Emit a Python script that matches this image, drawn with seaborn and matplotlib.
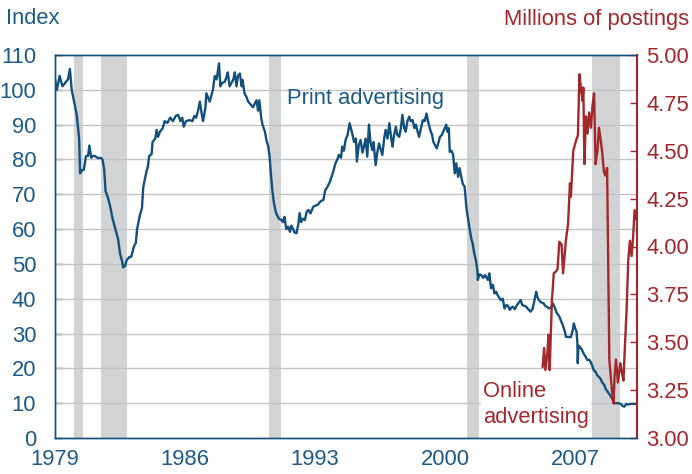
import numpy as np
import pandas as pd
import matplotlib
matplotlib.use("Agg")
import matplotlib.pyplot as plt
import seaborn as sns

# ==========================================
# DADOS
# ==========================================
anos_print = [
    1979.0, 1979.1, 1979.25, 1979.4, 1979.55, 1979.7, 1979.8, 1979.9, 1980.05, 1980.17,
    1980.3, 1980.35, 1980.45, 1980.55, 1980.67, 1980.78, 1980.85, 1980.95, 1981.05, 1981.15,
    1981.3, 1981.45, 1981.56, 1981.65, 1981.72, 1981.85, 1981.95, 1982.1, 1982.3, 1982.4,
    1982.5, 1982.6, 1982.67, 1982.78, 1982.85, 1983.0, 1983.1, 1983.25, 1983.35, 1983.42,
    1983.57, 1983.68, 1983.75, 1983.9, 1984.0, 1984.07, 1984.2, 1984.25, 1984.4, 1984.47,
    1984.55, 1984.65, 1984.8, 1984.9, 1985.05, 1985.2, 1985.35, 1985.5, 1985.63, 1985.75,
    1985.85, 1985.93, 1986.05, 1986.25, 1986.4, 1986.5, 1986.6, 1986.7, 1986.8, 1986.9,
    1986.97, 1987.1, 1987.15, 1987.33, 1987.45, 1987.5, 1987.6, 1987.7, 1987.83, 1987.9,
    1988.0, 1988.14, 1988.25, 1988.3, 1988.4, 1988.5, 1988.6, 1988.68, 1988.77, 1988.85,
    1988.95, 1989.05, 1989.1, 1989.2, 1989.3, 1989.4, 1989.5, 1989.66, 1989.75, 1989.85,
    1989.93, 1990.0, 1990.1, 1990.17, 1990.3, 1990.38, 1990.47, 1990.55, 1990.62, 1990.7,
    1990.8, 1990.9, 1991.05, 1991.2, 1991.27, 1991.35, 1991.45, 1991.55, 1991.65, 1991.72,
    1991.8, 1991.9, 1992.0, 1992.1, 1992.17, 1992.25, 1992.35, 1992.45, 1992.55, 1992.65,
    1992.75, 1992.9, 1993.05, 1993.15, 1993.3, 1993.45, 1993.55, 1993.65, 1993.8, 1993.95,
    1994.1, 1994.2, 1994.28, 1994.4, 1994.46, 1994.55, 1994.64, 1994.75, 1994.86, 1995.0,
    1995.1, 1995.2, 1995.25, 1995.35, 1995.45, 1995.55, 1995.63, 1995.72, 1995.81, 1995.9,
    1995.98, 1996.08, 1996.15, 1996.26, 1996.35, 1996.44, 1996.53, 1996.62, 1996.72, 1996.8,
    1996.9, 1997.0, 1997.1, 1997.17, 1997.25, 1997.35, 1997.43, 1997.53, 1997.62, 1997.7,
    1997.8, 1997.88, 1997.97, 1998.07, 1998.15, 1998.25, 1998.35, 1998.43, 1998.52, 1998.6,
    1998.7, 1998.8, 1998.9, 1999.0, 1999.08, 1999.2, 1999.3, 1999.37, 1999.47, 1999.55,
    1999.65, 1999.72, 1999.82, 1999.9, 2000.06, 2000.12, 2000.2, 2000.25, 2000.35, 2000.43,
    2000.52, 2000.6, 2000.7, 2000.78, 2000.87, 2000.95, 2001.05, 2001.15, 2001.3, 2001.4,
    2001.48, 2001.57, 2001.66, 2001.74, 2001.76, 2001.85, 2001.95, 2002.05, 2002.15, 2002.3,
    2002.38, 2002.47, 2002.57, 2002.66, 2002.75, 2002.83, 2002.95, 2003.0, 2003.1, 2003.2,
    2003.3, 2003.38, 2003.48, 2003.57, 2003.65, 2003.75, 2003.87, 2003.98, 2004.07, 2004.15,
    2004.25, 2004.37, 2004.47, 2004.6, 2004.7, 2004.78, 2004.9, 2004.97, 2005.05, 2005.15,
    2005.3, 2005.38, 2005.47, 2005.6, 2005.7, 2005.8, 2005.9, 2006.0, 2006.15, 2006.25,
    2006.33, 2006.45, 2006.5, 2006.6, 2006.7, 2006.77, 2006.87, 2006.93, 2007.0, 2007.08,
    2007.12, 2007.14, 2007.18, 2007.25, 2007.35, 2007.45, 2007.55, 2007.65, 2007.75, 2007.83,
    2007.9, 2008.0, 2008.1, 2008.18, 2008.28, 2008.36, 2008.45, 2008.57, 2008.65, 2008.75,
    2008.85, 2008.93, 2009.02, 2009.1, 2009.3, 2009.45, 2009.55, 2009.65, 2009.75, 2009.85,
    2010.0, 2010.15, 2010.3,
]
indice_print = [
    103, 100, 104, 101, 102, 103, 106, 100, 96, 92.8,
    86, 76, 77, 77, 81, 81, 84, 80.5, 81, 81,
    80.4, 80.5, 80, 77, 71, 69, 67, 63, 59, 57,
    53, 51, 49, 49.5, 51, 52, 52, 55, 56, 60,
    64, 66, 72, 76, 78, 81, 81.5, 85, 86, 88.5,
    86.5, 88, 89, 91, 90.5, 92, 91, 92.5, 92.8, 91,
    92, 89.4, 91, 91.3, 91, 92.5, 92, 94, 96.6, 93,
    91, 95, 99, 96.6, 99, 100, 104, 103, 107.6, 101,
    102, 102.3, 104, 105, 101, 102, 103, 105, 101, 104,
    104.7, 101, 102.8, 99, 98, 96.6, 96, 95, 96, 97,
    94, 97, 92, 90, 88, 85.6, 84, 81, 76, 71,
    67, 64.6, 63, 62.6, 62, 63.5, 60, 60.7, 59.2, 61,
    60.2, 59, 58.8, 61.5, 64.6, 62, 63, 62.6, 65, 65.5,
    64.5, 66.4, 66.8, 67, 68, 68.4, 71.2, 72, 73.6, 76,
    78.9, 80, 81.3, 80.5, 83.7, 82.5, 85.6, 87, 90.4, 87.5,
    85, 86, 79.4, 84, 85.6, 82, 83.7, 86, 80.8, 90,
    85, 82.7, 85, 78.4, 82, 84.6, 83, 81.3, 86, 88.5,
    86, 90.4, 86, 83.7, 87, 89.4, 87, 86.5, 89, 92.8,
    89, 88, 91, 92.3, 91, 91.3, 89, 90, 88, 86.5,
    89, 91.3, 91, 93.2, 91, 88.5, 87, 85, 84, 83.2,
    85, 86.5, 87, 88, 90, 88, 89, 82.2, 82.5, 81.3,
    76, 78.9, 75, 77.5, 75, 73, 72.2, 66, 60.7, 57.5,
    55.9, 53, 51, 48, 45.4, 47, 46.8, 46, 46.8, 45.4,
    47.3, 43, 44, 41.5, 42, 41, 40, 39.6, 40, 37.2,
    38.2, 38, 36.8, 37.5, 37.7, 37, 38.2, 39, 39.6, 38.2,
    38, 37.7, 37, 36.3, 37, 38.7, 42, 40.5, 39.6, 39,
    38.7, 38, 37.7, 37.2, 37.5, 38.7, 37.5, 36, 34.9, 33.5,
    32.5, 30.5, 29.1, 29, 29, 29, 31, 32.9, 31.5, 30.5,
    27.2, 21.5, 26.5, 26.2, 25.5, 24.3, 23.5, 22.4, 22.5, 21.9,
    21, 19.5, 19, 18.1, 17.5, 17.1, 16, 15.2, 14, 13.3,
    12.5, 11.9, 11, 10, 10, 9.8, 9.2, 9.0, 9.8, 9.6,
    9.8, 9.8, 9.8,
]

anos_online = [
    2005.25, 2005.33, 2005.4, 2005.5, 2005.57, 2005.63, 2005.75, 2005.85, 2005.97, 2006.05,
    2006.15, 2006.27, 2006.35, 2006.5, 2006.62, 2006.72, 2006.77, 2006.9, 2007.07, 2007.15,
    2007.23, 2007.32, 2007.4, 2007.44, 2007.5, 2007.58, 2007.67, 2007.75, 2007.85, 2007.93,
    2008.02, 2008.1, 2008.2, 2008.28, 2008.37, 2008.46, 2008.55, 2008.63, 2008.72, 2008.84,
    2008.98, 2009.07, 2009.12, 2009.2, 2009.3, 2009.43, 2009.5, 2009.6, 2009.68, 2009.77,
    2009.86, 2009.95, 2010.04, 2010.12, 2010.2, 2010.3,
]
postagens_online = [
    3.37, 3.47, 3.355, 3.44, 3.54, 3.355, 3.72, 3.86, 3.87, 3.88,
    4.025, 4.01, 3.86, 4.03, 4.12, 4.33, 4.26, 4.50, 4.56, 4.58,
    4.90, 4.82, 4.76, 4.83, 4.43, 4.68, 4.59, 4.70, 4.62, 4.73,
    4.80, 4.43, 4.50, 4.62, 4.56, 4.49, 4.39, 4.37, 4.41, 3.41,
    3.25, 3.18, 3.32, 3.41, 3.29, 3.39, 3.35, 3.30, 3.48, 3.67,
    3.93, 4.03, 3.95, 4.05, 4.19, 4.14,
]

# recessões (NBER)
recessao_inicio = [1980.0, 1981.5, 1990.5, 2001.17, 2007.92]
recessao_fim = [1980.5, 1982.87, 1991.17, 2001.84, 2009.42]

anos_ticks = [1979, 1986, 1993, 2000, 2007]
ticks_esq = list(range(0, 111, 10))
ticks_dir = [3.00, 3.25, 3.50, 3.75, 4.00, 4.25, 4.50, 4.75, 5.00]

df_print = pd.DataFrame({'Ano': anos_print, 'Indice': indice_print})
df_online = pd.DataFrame({'Ano': anos_online, 'Postagens': postagens_online})

# ==========================================
# ESTILO
# ==========================================
sns.set_theme(style="white")
plt.rcParams['font.family'] = ['Liberation Sans', 'DejaVu Sans']

azul = '#14507c'
azul_txt = '#1d5a86'
vermelho = '#a3282b'
cinza = '#d1d3d5'
fs = 15.8

fig = plt.figure(figsize=(6.92, 4.74), dpi=100)
ax = fig.add_axes([55/692, 1 - 438/474, (637-55)/692, (438-55)/474])

for ini, fim in zip(recessao_inicio, recessao_fim):
    ax.axvspan(ini, fim, color=cinza, lw=0, zorder=0)

for t in ticks_esq[1:-1]:
    ax.axhline(t, color='#c4c4c4', lw=1, zorder=1)

sns.lineplot(data=df_print, x='Ano', y='Indice', ax=ax, color=azul, lw=1.7, zorder=3)

ax.set_xlim(1979, 2010.33)
ax.set_ylim(0, 110)
ax.set_xticks(anos_ticks)
ax.set_yticks(ticks_esq)
ax.set_xlabel('')
ax.set_ylabel('')
ax.tick_params(axis='both', direction='in', length=5, width=1, color=azul,
               labelcolor=azul_txt, labelsize=fs)
ax.tick_params(axis='y', pad=13.5)
ax.tick_params(axis='x', pad=8)

ax.text(1995.7, 97.6, 'Print advertising', color=azul_txt, fontsize=fs,
        ha='center', va='center', zorder=4)
ax.text(2002.05, 9.6, 'Online\nadvertising', color=vermelho, fontsize=fs,
        ha='left', va='center', linespacing=1.3, zorder=4,
        bbox=dict(facecolor='white', edgecolor='none', pad=1.5))

ax2 = ax.twinx()
sns.lineplot(data=df_online, x='Ano', y='Postagens', ax=ax2, color=vermelho, lw=1.7)
ax2.set_ylim(3, 5)
ax2.set_yticks(ticks_dir)
ax2.set_yticklabels([f'{v:.2f}' for v in ticks_dir])
ax2.set_ylabel('')
ax2.tick_params(axis='y', direction='in', length=5, width=1, color=vermelho,
                labelcolor=vermelho, labelsize=fs, pad=6.5)

for a in (ax, ax2):
    for lado in ('left', 'top', 'bottom'):
        a.spines[lado].set_color(azul)
        a.spines[lado].set_linewidth(1)
ax.spines['right'].set_visible(False)
ax2.spines['right'].set_color(vermelho)
ax2.spines['right'].set_linewidth(1.5)

fig.text(6/692, 1 - 18/474, 'Index', color=azul_txt, fontsize=fs, ha='left', va='center')
fig.text(689/692, 1 - 20/474, 'Millions of postings', color=vermelho, fontsize=fs,
         ha='right', va='center')

plt.savefig('out.png', dpi=100)
